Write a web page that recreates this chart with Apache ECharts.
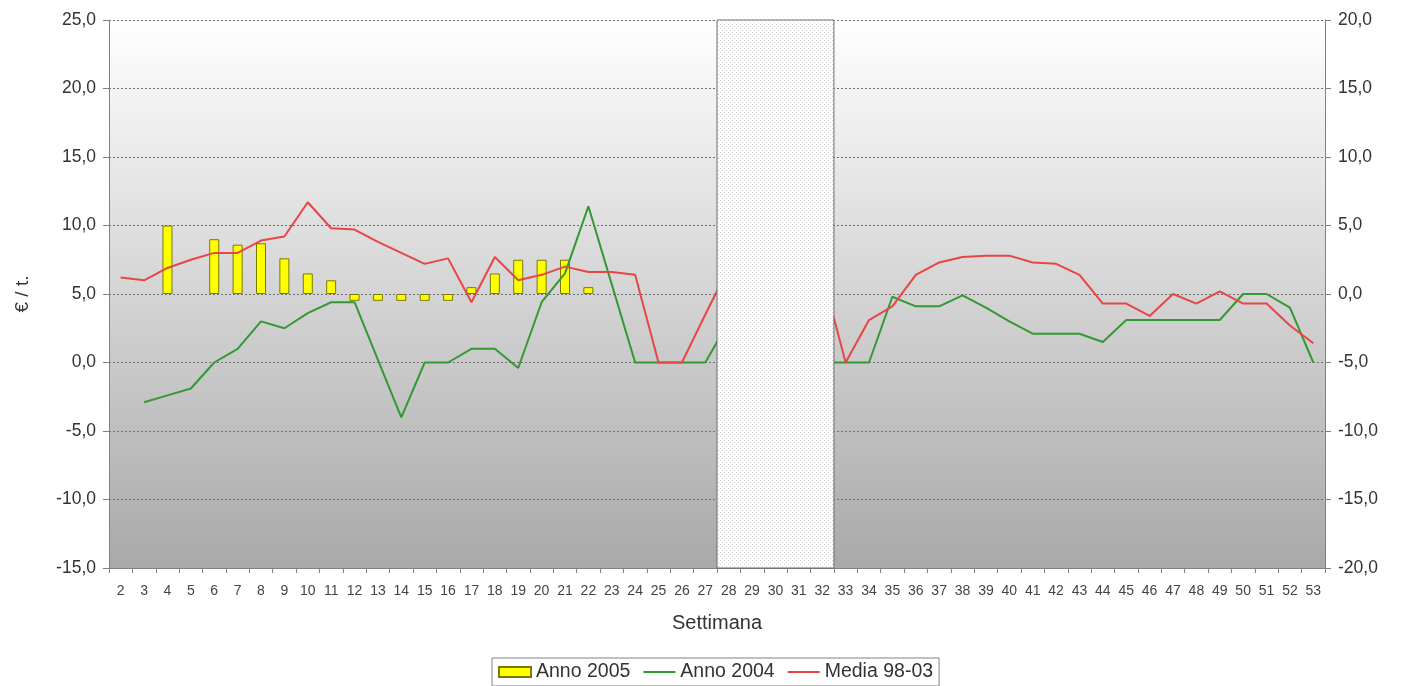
<!DOCTYPE html>
<html>
<head>
<meta charset="utf-8">
<script src="https://cdn.jsdelivr.net/npm/echarts@6/dist/echarts.min.js"></script>
<style>
html,body{margin:0;padding:0;background:#fff;}
#chart{width:1410px;height:686px;}
</style>
</head>
<body>
<div id="chart"></div>
<script>
// Weeks (x categories)
var weeks = ['2','3','4','5','6','7','8','9','10','11','12','13','14','15','16','17','18','19','20','21','22','23','24','25','26','27','28','29','30','31','32','33','34','35','36','37','38','39','40','41','42','43','44','45','46','47','48','49','50','51','52','53'];

// Anno 2005 (bars, right axis)
var anno2005 = [null,null,5.0,null,4.0,3.6,3.7,2.6,1.5,1.0,-0.5,-0.5,-0.5,-0.5,-0.5,0.5,1.5,2.5,2.5,2.5,0.5,null,null,null,null,null,null,null,null,null,null,null,null,null,null,null,null,null,null,null,null,null,null,null,null,null,null,null,null,null,null,null];

// Anno 2004 (line, left axis)
var anno2004 = [null,-2.9,-2.4,-1.9,0.0,1.0,3.0,2.5,3.6,4.4,4.4,0.2,-4.0,0.0,0.0,1.0,1.0,-0.4,4.4,6.5,11.4,5.7,0.0,0.0,0.0,0.0,3.0,null,null,null,0.0,0.0,0.0,4.8,4.1,4.1,4.9,4.0,3.0,2.1,2.1,2.1,1.5,3.1,3.1,3.1,3.1,3.1,5.0,5.0,4.0,0.0];

// Media 98-03 (line, left axis)
var media9803 = [6.2,6.0,6.9,7.5,8.0,8.0,8.9,9.2,11.7,9.8,9.7,8.8,8.0,7.2,7.6,4.4,7.7,6.0,6.4,7.0,6.6,6.6,6.4,0.0,0.0,3.5,6.9,null,null,null,6.5,0.0,3.1,4.1,6.4,7.3,7.7,7.8,7.8,7.3,7.2,6.4,4.3,4.3,3.4,5.0,4.3,5.2,4.3,4.3,2.7,1.4];

// Shaded (no data) weeks
var shadedFrom = '28';
var shadedTo = '32';

// Axis ticks
var leftAxis = {min: -15, max: 25, interval: 5};
var rightAxis = {min: -20, max: 20, interval: 5};

var chart = echarts.init(document.getElementById('chart'));

// dotted pattern for the shaded area
var pc = document.createElement('canvas');
pc.width = 4; pc.height = 4;
var ctx = pc.getContext('2d');
ctx.fillStyle = '#ffffff';
ctx.fillRect(0, 0, 4, 4);
ctx.fillStyle = '#cfcfcf';
ctx.fillRect(0, 0, 1, 1);
ctx.fillRect(2, 2, 1, 1);

function fmt(v) { return v.toFixed(1).replace('.', ','); }

var font = 'Liberation Sans';
var lineIcon = 'path://M0,0L30,0L30,2L0,2Z';

var option = {
  animation: false,
  textStyle: {fontFamily: font},
  grid: {
    left: 109, right: 85, top: 20, bottom: 118,
    show: true,
    borderWidth: 0,
    backgroundColor: new echarts.graphic.LinearGradient(0, 0, 0, 1, [
      {offset: 0, color: '#ffffff'},
      {offset: 1, color: '#a9a9a9'}
    ])
  },
  legend: {
    top: 658,
    left: 492,
    itemGap: 13,
    itemWidth: 32,
    itemHeight: 10,
    symbolKeepAspect: true,
    borderColor: '#808080',
    borderWidth: 1,
    borderRadius: 0,
    padding: [4, 6, 4, 6],
    textStyle: {fontSize: 19.5, color: '#333', fontFamily: font},
    data: [
      {name: 'Anno 2005', icon: 'rect'},
      {name: 'Anno 2004', icon: lineIcon},
      {name: 'Media 98-03', icon: lineIcon}
    ]
  },
  xAxis: [{
    type: 'category',
    data: weeks,
    name: 'Settimana',
    nameLocation: 'middle',
    nameGap: 45,
    nameTextStyle: {fontSize: 20, color: '#333'},
    axisLine: {onZero: false, lineStyle: {color: '#808080'}},
    axisTick: {show: true, alignWithLabel: false, interval: 0, length: 5, lineStyle: {color: '#808080'}},
    axisLabel: {interval: 0, fontSize: 14, color: '#444', margin: 16},
    splitLine: {show: false}
  }, {
    type: 'value',
    min: 0,
    max: weeks.length,
    show: false
  }],
  yAxis: [{
    type: 'value',
    min: leftAxis.min, max: leftAxis.max, interval: leftAxis.interval,
    name: '€ / t.',
    nameLocation: 'middle',
    nameGap: 77,
    nameRotate: 90,
    nameTextStyle: {fontSize: 19, color: '#333'},
    axisLine: {show: true, onZero: false, lineStyle: {color: '#808080'}},
    axisTick: {show: true, length: 6, lineStyle: {color: '#808080'}},
    axisLabel: {formatter: fmt, fontSize: 17.5, color: '#333', margin: 13},
    splitLine: {show: true, lineStyle: {color: '#707070', type: [2, 2], width: 1}}
  }, {
    type: 'value',
    position: 'right',
    min: rightAxis.min, max: rightAxis.max, interval: rightAxis.interval,
    axisLine: {show: true, onZero: false, lineStyle: {color: '#808080'}},
    axisTick: {show: true, length: 6, lineStyle: {color: '#808080'}},
    axisLabel: {formatter: fmt, fontSize: 17.5, color: '#333', margin: 13},
    splitLine: {show: false}
  }],
  series: [{
    name: 'Anno 2005',
    type: 'bar',
    yAxisIndex: 1,
    data: anno2005,
    barWidth: 10,
    itemStyle: {color: '#ffff00', borderColor: '#7a7a00', borderWidth: 1},
    z: 2
  }, {
    name: 'Anno 2004',
    type: 'line',
    yAxisIndex: 0,
    data: anno2004,
    symbol: 'none',
    connectNulls: false,
    lineStyle: {color: '#339933', width: 2},
    itemStyle: {color: '#339933'},
    z: 3
  }, {
    name: 'Media 98-03',
    type: 'line',
    yAxisIndex: 0,
    data: media9803,
    symbol: 'none',
    connectNulls: false,
    lineStyle: {color: '#e84646', width: 2},
    itemStyle: {color: '#e84646'},
    z: 4
  }, {
    name: 'shaded',
    type: 'line',
    xAxisIndex: 1,
    yAxisIndex: 0,
    data: [],
    z: 10,
    silent: true,
    markArea: {
      silent: true,
      z: 10,
      itemStyle: {
        color: {image: pc, repeat: 'repeat'},
        borderColor: '#6a6a6a',
        borderWidth: 1
      },
      data: [[
        {xAxis: weeks.indexOf(shadedFrom), yAxis: leftAxis.min},
        {xAxis: weeks.indexOf(shadedTo) + 1, yAxis: leftAxis.max}
      ]]
    }
  }]
};
chart.setOption(option);
</script>
</body>
</html>
